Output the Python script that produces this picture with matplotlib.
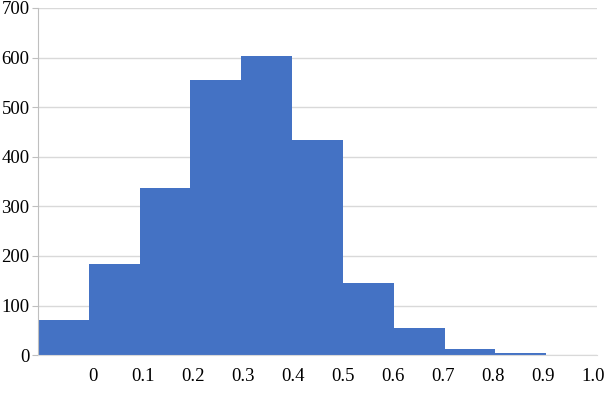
import matplotlib
matplotlib.use("Agg")
import matplotlib.pyplot as plt
import matplotlib.transforms as mtransforms

# histogram bins (left edges) and counts
bin_edges = [-0.1, 0.0, 0.1, 0.2, 0.3, 0.4, 0.5, 0.6, 0.7, 0.8, 0.9, 1.0]
counts = [71, 183, 337, 555, 603, 434, 145, 54, 12, 4, 0]
x_ticks = [0.0, 0.1, 0.2, 0.3, 0.4, 0.5, 0.6, 0.7, 0.8, 0.9, 1.0]
x_labels = ["0", "0.1", "0.2", "0.3", "0.4", "0.5", "0.6", "0.7", "0.8", "0.9", "1.0"]
y_ticks = [0, 100, 200, 300, 400, 500, 600, 700]

plt.rcParams["font.family"] = ["Liberation Serif", "DejaVu Serif"]

fig = plt.figure(figsize=(6.06, 4.12), dpi=100)
ax = fig.add_axes([0.0627, 0.138, 0.9225, 0.8426])

widths = [bin_edges[i + 1] - bin_edges[i] for i in range(len(counts))]
ax.bar(bin_edges[:-1], counts, width=widths, align="edge", color="#4472C4",
       linewidth=0, zorder=2)

ax.set_xlim(-0.1, 1.0)
ax.set_ylim(0, 700)
ax.set_yticks(y_ticks)
ax.set_xticks(x_ticks)
ax.set_xticklabels(x_labels)
ax.tick_params(axis="x", length=0, pad=9, labelsize=13.5)
ax.tick_params(axis="y", length=4, color="#bfbfbf", pad=2, labelsize=13.5)
# labels drift slightly left of the bin edges toward the right end
for val, lbl in zip(x_ticks, ax.get_xticklabels()):
    dx = (4 - 7.5 * val) / 100
    lbl.set_transform(lbl.get_transform() + mtransforms.ScaledTranslation(dx, 0, fig.dpi_scale_trans))

ax.grid(axis="y", color="#d9d9d9", linewidth=1, zorder=0)
ax.set_axisbelow(True)
for side in ["top", "right"]:
    ax.spines[side].set_visible(False)
ax.spines["left"].set_color("#bfbfbf")
ax.spines["bottom"].set_color("#d9d9d9")

fig.savefig("out.png", dpi=100)
